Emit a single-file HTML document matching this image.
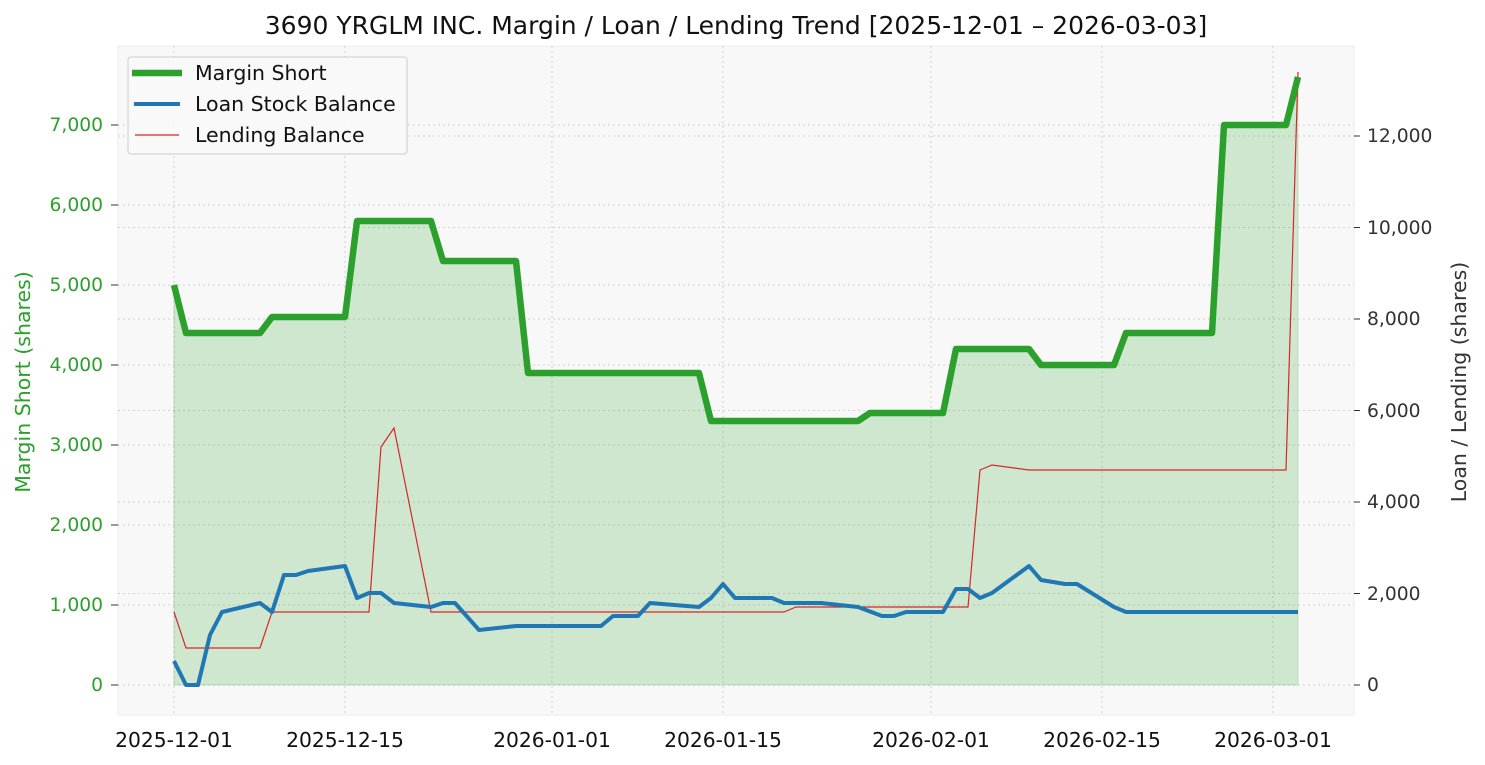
<!DOCTYPE html>
<html><head><meta charset="utf-8"><style>
body{margin:0;background:#fff;}
svg{display:block;font-family:"DejaVu Sans","Liberation Sans",sans-serif;}
</style></head><body>
<svg width="1485" height="765" viewBox="0 0 1485 765" xmlns="http://www.w3.org/2000/svg">
<rect x="0" y="0" width="1485" height="765" fill="#fff"/>
<rect x="118" y="46" width="1236" height="669" fill="#f8f8f8" stroke="#eeeeee"/>
<g stroke="#d0d0d0" stroke-width="1" stroke-dasharray="2,3">
<line x1="174" y1="46" x2="174" y2="715"/><line x1="345" y1="46" x2="345" y2="715"/>
<line x1="552" y1="46" x2="552" y2="715"/><line x1="723" y1="46" x2="723" y2="715"/>
<line x1="931" y1="46" x2="931" y2="715"/><line x1="1102" y1="46" x2="1102" y2="715"/>
<line x1="1273" y1="46" x2="1273" y2="715"/>
<line x1="118" y1="685" x2="1354" y2="685"/><line x1="118" y1="605" x2="1354" y2="605"/>
<line x1="118" y1="525" x2="1354" y2="525"/><line x1="118" y1="445" x2="1354" y2="445"/>
<line x1="118" y1="365" x2="1354" y2="365"/><line x1="118" y1="285" x2="1354" y2="285"/>
<line x1="118" y1="205" x2="1354" y2="205"/><line x1="118" y1="125" x2="1354" y2="125"/>
<line x1="118" y1="593.5" x2="1354" y2="593.5"/><line x1="118" y1="502" x2="1354" y2="502"/>
<line x1="118" y1="410.5" x2="1354" y2="410.5"/><line x1="118" y1="319" x2="1354" y2="319"/>
<line x1="118" y1="227.5" x2="1354" y2="227.5"/><line x1="118" y1="136" x2="1354" y2="136"/>
</g>
<polygon fill="#2ca02c" fill-opacity="0.2" stroke="#2ca02c" stroke-opacity="0.2" points="174,685 174,285 186,333 260,333 272,317 345,317 357,221 431,221 443,261 516,261 528,373 699,373 711,421 858,421 870,413 943,413 956,349 1029,349 1041,365 1114,365 1126,333 1212,333 1224,125 1286,125 1298,77 1298,685"/>
<polyline fill="none" stroke="#d62728" stroke-width="1.2" points="174,612 186,648 260,648 272,612 369,612 381,447 394,428 431,612 784,612 796,607 968,607 980,470 992,465 1029,470 1286,470 1298,72"/>
<polyline fill="none" stroke="#1f77b4" stroke-width="4" stroke-linejoin="round" points="174,661 186,685 198,685 210,635 222,612 260,603 272,612 284,575 296,575 308,571 345,566 357,598 369,593 381,593 394,603 431,607 443,603 455,603 479,630 516,626 601,626 613,616 638,616 650,603 699,607 711,598 723,584 735,598 772,598 784,603 821,603 858,607 882,616 894,616 906,612 943,612 956,589 968,589 980,598 992,593 1029,566 1041,580 1065,584 1077,584 1114,607 1126,612 1298,612"/>
<polyline fill="none" stroke="#2ca02c" stroke-width="6.5" stroke-linejoin="round" points="174,285 186,333 260,333 272,317 345,317 357,221 431,221 443,261 516,261 528,373 699,373 711,421 858,421 870,413 943,413 956,349 1029,349 1041,365 1114,365 1126,333 1212,333 1224,125 1286,125 1298,77"/>
<g font-size="18.7" fill="#2ca02c" text-anchor="end">
<text x="103" y="691">0</text><text x="103" y="611">1,000</text><text x="103" y="531">2,000</text>
<text x="103" y="451">3,000</text><text x="103" y="371">4,000</text><text x="103" y="291">5,000</text>
<text x="103" y="211">6,000</text><text x="103" y="131">7,000</text>
</g>
<g stroke="#333" stroke-width="1">
<line x1="111" y1="685" x2="118" y2="685"/><line x1="111" y1="605" x2="118" y2="605"/><line x1="111" y1="525" x2="118" y2="525"/><line x1="111" y1="445" x2="118" y2="445"/><line x1="111" y1="365" x2="118" y2="365"/><line x1="111" y1="285" x2="118" y2="285"/><line x1="111" y1="205" x2="118" y2="205"/><line x1="111" y1="125" x2="118" y2="125"/>
<line x1="1354" y1="685" x2="1360" y2="685"/><line x1="1354" y1="593.5" x2="1360" y2="593.5"/><line x1="1354" y1="502" x2="1360" y2="502"/><line x1="1354" y1="410.5" x2="1360" y2="410.5"/><line x1="1354" y1="319" x2="1360" y2="319"/><line x1="1354" y1="227.5" x2="1360" y2="227.5"/><line x1="1354" y1="136" x2="1360" y2="136"/>
</g>
<g font-size="18.7" fill="#333">
<text x="1367" y="691">0</text><text x="1367" y="600">2,000</text><text x="1367" y="508">4,000</text>
<text x="1367" y="417">6,000</text><text x="1367" y="325">8,000</text><text x="1367" y="234">10,000</text>
<text x="1367" y="142">12,000</text>
</g>
<g font-size="20.3" fill="#111" text-anchor="middle">
<text x="174" y="747">2025-12-01</text><text x="345" y="747">2025-12-15</text><text x="552" y="747">2026-01-01</text>
<text x="723" y="747">2026-01-15</text><text x="931" y="747">2026-02-01</text><text x="1102" y="747">2026-02-15</text>
<text x="1273" y="747">2026-03-01</text>
</g>
<text x="30" y="382" font-size="20.5" fill="#2ca02c" text-anchor="middle" transform="rotate(-90 30 382)">Margin Short (shares)</text>
<text x="1466" y="382" font-size="20.5" fill="#333" text-anchor="middle" transform="rotate(-90 1466 382)">Loan / Lending (shares)</text>
<text x="736" y="34" font-size="25" fill="#111" text-anchor="middle">3690 YRGLM INC. Margin / Loan / Lending Trend [2025-12-01 – 2026-03-03]</text>
<rect x="128" y="57" width="279" height="97" rx="3" fill="#f8f8f8" fill-opacity="0.9" stroke="#cccccc"/>
<line x1="132" y1="73" x2="182" y2="73" stroke="#2ca02c" stroke-width="6.5"/>
<line x1="134" y1="104" x2="180" y2="104" stroke="#1f77b4" stroke-width="4"/>
<line x1="135" y1="135" x2="179" y2="135" stroke="#d62728" stroke-width="1.2"/>
<g font-size="20.5" fill="#111">
<text x="195" y="80">Margin Short</text><text x="195" y="111">Loan Stock Balance</text><text x="195" y="142">Lending Balance</text>
</g>
</svg>
</body></html>
